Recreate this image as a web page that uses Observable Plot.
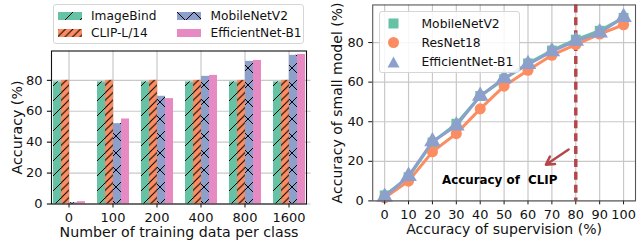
<!DOCTYPE html>
<html><head><meta charset="utf-8">
<script src="https://cdn.jsdelivr.net/npm/d3@7"></script>
<script src="https://cdn.jsdelivr.net/npm/@observablehq/plot@0.6"></script>
<style>
html,body{margin:0;padding:0;background:#fff;overflow:hidden;}
#wrap{position:relative;width:637px;height:242px;overflow:hidden;font-family:"DejaVu Sans",sans-serif;color:#111;}
.panel{position:absolute;top:0;}
.panel svg{overflow:visible;}
g[aria-label$="axis label"] text{font-size:14.2px;}
.legend{position:absolute;background:rgba(255,255,255,0.85);border:1px solid #d6d6d6;border-radius:3px;box-sizing:border-box;color:#111;}
.legend .item{position:absolute;display:flex;align-items:center;white-space:nowrap;}
.legend svg{display:block;}
</style>
</head><body>
<svg width="0" height="0" style="position:absolute">
  <defs>
    <pattern id="hatchSingle" patternUnits="userSpaceOnUse" width="15" height="15">
      <path d="M-2,2 L2,-2 M0,15 L15,0 M13,17 L17,13" stroke="#000" stroke-width="1" fill="none"/>
    </pattern>
    <pattern id="hatchDouble" patternUnits="userSpaceOnUse" width="7.5" height="7.5">
      <path d="M-2,2 L2,-2 M0,7.5 L7.5,0 M5.5,9.5 L9.5,5.5" stroke="#000" stroke-width="1" fill="none"/>
    </pattern>
    <pattern id="hatchCross" patternUnits="userSpaceOnUse" width="17" height="17">
      <path d="M-2,2 L2,-2 M0,17 L17,0 M15,19 L19,15 M-2,15 L2,19 M0,0 L17,17 M15,-2 L19,2" stroke="#000" stroke-width="1" fill="none"/>
    </pattern>
  </defs>
</svg>
<div id="wrap"></div>
<script>
// ---------- Left panel data ----------
const groups = ["0", "100", "200", "400", "800", "1600"];
const models = ["ImageBind", "CLIP-L/14", "MobileNetV2", "EfficientNet-B1"];
const imageBindAcc = [79, 79, 79, 79, 79, 79];
const clipAcc = [80, 80, 80, 80, 80, 80];
const mobileNetAcc = [0.8, 52, 69.7, 82.6, 92.3, 96.2];
const efficientNetAcc = [1.5, 55, 68.2, 83.2, 92.9, 96.8];
const barColors = ["#66c2a5", "#fc8d62", "#8da0cb", "#e78ac3"];
const barHatches = ["url(#hatchSingle)", "url(#hatchDouble)", "url(#hatchCross)", null];
const barTicks = [0, 20, 40, 60, 80];

// ---------- Right panel data ----------
const supervision = [0, 10, 20, 30, 40, 50, 60, 70, 80, 90, 100];
const lineSeries = ["MobileNetV2", "ResNet18", "EfficientNet-B1"];
const mobileSmall = [2.8, 12, 29.5, 39, 53, 61.5, 69.5, 76, 81.5, 86, 92.5];
const resnetSmall = [1.6, 10, 24.8, 34, 46.5, 58, 66, 73.6, 79, 84.3, 89];
const efficientSmall = [2, 12.5, 30, 38, 53, 62, 69, 75.5, 80.8, 85, 92.8];
const lineColors = ["#66c2a5", "#fc8d62", "#8da0cb"];
const lineSymbols = ["square", "circle", "triangle"];
const lineTicksY = [0, 20, 40, 60, 80];
const clipAccuracy = [80];
const arrowAnnot = [{x1: 77, y1: 26, x2: 67.5, y2: 18.3}];
const textAnnot = [{x: 24, y: 10.6, text: "Accuracy of\u00a0 CLIP"}];

const barSeries = [imageBindAcc, clipAcc, mobileNetAcc, efficientNetAcc];
const barData = groups.flatMap((g, i) => models.map((m, j) => ({group: g, model: m, value: barSeries[j][i]})));
const smallSeries = [mobileSmall, resnetSmall, efficientSmall];
const lineData = lineSeries.flatMap((s, j) => supervision.map((x, i) => ({series: s, sup: x, acc: smallSeries[j][i]})));

const wrap = document.getElementById("wrap");
const font = {fontFamily: "DejaVu Sans", fontSize: "13px", color: "#111", background: "transparent"};

// ---------- Left chart ----------
const hatchMarks = models.map((m, j) => barHatches[j] ? Plot.barY(barData.filter(d => d.model === m), {fx: "group", x: "model", y: "value", fill: barHatches[j]}) : null).filter(Boolean);
const left = Plot.plot({
  width: 320, height: 242,
  marginLeft: 47, marginRight: 9, marginTop: 50.5, marginBottom: 38.5,
  style: font,
  fx: {domain: groups, paddingInner: 0.2, paddingOuter: 0.08, axis: null},
  x: {domain: models, padding: 0, axis: null},
  y: {domain: [0, 99], axis: null},
  color: {domain: models, range: barColors},
  marks: [
    Plot.gridFx({stroke: "#c8c8c8", strokeOpacity: 1, strokeWidth: 1.2}),
    Plot.ruleY(barTicks, {stroke: "#c8c8c8", strokeOpacity: 1, strokeWidth: 1.2, insetLeft: -4.5, insetRight: -4.5}),
    Plot.barY(barData, {fx: "group", x: "model", y: "value", fill: "model"}),
    ...hatchMarks,
    Plot.axisFx({anchor: "bottom", tickSize: 4, label: "Number of training data per class", labelAnchor: "center", labelArrow: "none", labelOffset: 33}),
    Plot.axisY(barTicks, {anchor: "left", tickSize: 4, label: "Accuracy (%)", labelAnchor: "center", labelArrow: "none", labelOffset: 40}),
    Plot.frame({facet: "super", stroke: "#111", strokeWidth: 1.1})
  ]
});
const leftDiv = document.createElement("div");
leftDiv.className = "panel"; leftDiv.style.left = "0px";
leftDiv.appendChild(left);
wrap.appendChild(leftDiv);

// ---------- Right chart ----------
const seriesMarks = lineSeries.flatMap((s, j) => {
  const d = lineData.filter(r => r.series === s);
  return [
    Plot.line(d, {x: "sup", y: "acc", stroke: "series", strokeWidth: 3}),
    Plot.dot(d, {x: "sup", y: "acc", fill: "series", symbol: () => lineSymbols[j], r: j === 2 ? 6.2 : 5.6})
  ];
});
const right = Plot.plot({
  width: 320, height: 242,
  marginLeft: 52.7, marginRight: 2, marginTop: 4.5, marginBottom: 39.7,
  style: font,
  x: {domain: [-5, 105], axis: null},
  y: {domain: [0, 99], axis: null},
  color: {domain: lineSeries, range: lineColors},
  symbol: {type: "identity"},
  marks: [
    Plot.gridX(supervision, {stroke: "#c8c8c8", strokeOpacity: 1, strokeWidth: 1.2}),
    Plot.gridY(lineTicksY, {stroke: "#c8c8c8", strokeOpacity: 1, strokeWidth: 1.2}),
    Plot.ruleX(clipAccuracy, {stroke: "#b5474b", strokeWidth: 3.5, strokeDasharray: "8,5"}),
    ...seriesMarks,
    Plot.arrow(arrowAnnot, {x1: "x1", y1: "y1", x2: "x2", y2: "y2", stroke: "#b5474b", strokeWidth: 2.5, headLength: 9}),
    Plot.text(textAnnot, {x: "x", y: "y", text: "text", textAnchor: "start", fontWeight: "bold", fontSize: 12, fill: "#000"}),
    Plot.axisX(supervision, {anchor: "bottom", tickSize: 4, label: "Accuracy of supervision (%)", labelAnchor: "center", labelArrow: "none", labelOffset: 33}),
    Plot.axisY(lineTicksY, {anchor: "left", tickSize: 4, label: "Accuracy of small model (%)", labelAnchor: "center", labelArrow: "none", labelOffset: 41}),
    Plot.frame({stroke: "#555", strokeWidth: 1.1})
  ]
});
const rightDiv = document.createElement("div");
rightDiv.className = "panel"; rightDiv.style.left = "320px";
rightDiv.appendChild(right);
wrap.appendChild(rightDiv);

// ---------- Legends ----------
const ns = "http://www.w3.org/2000/svg";
function svgEl(tag, attrs) { const e = document.createElementNS(ns, tag); for (const k in attrs) e.setAttribute(k, attrs[k]); return e; }

const legL = document.createElement("div");
legL.className = "legend";
Object.assign(legL.style, {left: "53px", top: "4px", width: "251px", height: "39.5px", fontSize: "12.2px"});
models.forEach((m, j) => {
  const col = Math.floor(j / 2), row = j % 2;
  const it = document.createElement("div");
  it.className = "item";
  Object.assign(it.style, {left: (3.5 + col * 119.5) + "px", top: (2 + row * 17) + "px", height: "17px"});
  const s = svgEl("svg", {width: 24, height: 8});
  s.appendChild(svgEl("rect", {x: 0, y: 0, width: 24, height: 8, fill: barColors[j]}));
  if (barHatches[j]) s.appendChild(svgEl("rect", {x: 0, y: 0, width: 24, height: 8, fill: barHatches[j]}));
  const t = document.createElement("span");
  t.textContent = m; t.style.marginLeft = "9.5px";
  it.appendChild(s); it.appendChild(t);
  legL.appendChild(it);
});
wrap.appendChild(legL);

const legR = document.createElement("div");
legR.className = "legend";
Object.assign(legR.style, {left: "379px", top: "10.5px", width: "140.5px", height: "62.5px", fontSize: "12.3px"});
const symPaths = {
  square: () => svgEl("rect", {x: 2.5, y: 2.5, width: 10, height: 10}),
  circle: () => svgEl("circle", {cx: 7.5, cy: 7.5, r: 5.5}),
  triangle: () => svgEl("path", {d: "M7.5,1.5 L13.5,12.5 L1.5,12.5 Z"})
};
lineSeries.forEach((s, j) => {
  const it = document.createElement("div");
  it.className = "item";
  Object.assign(it.style, {left: "6px", top: (2.5 + j * 19.3) + "px", height: "19px"});
  const sv = svgEl("svg", {width: 15, height: 15});
  const p = symPaths[lineSymbols[j]]();
  p.setAttribute("fill", lineColors[j]);
  sv.appendChild(p);
  const t = document.createElement("span");
  t.textContent = s; t.style.marginLeft = "20.5px";
  it.appendChild(sv); it.appendChild(t);
  legR.appendChild(it);
});
wrap.appendChild(legR);
</script>
</body></html>
